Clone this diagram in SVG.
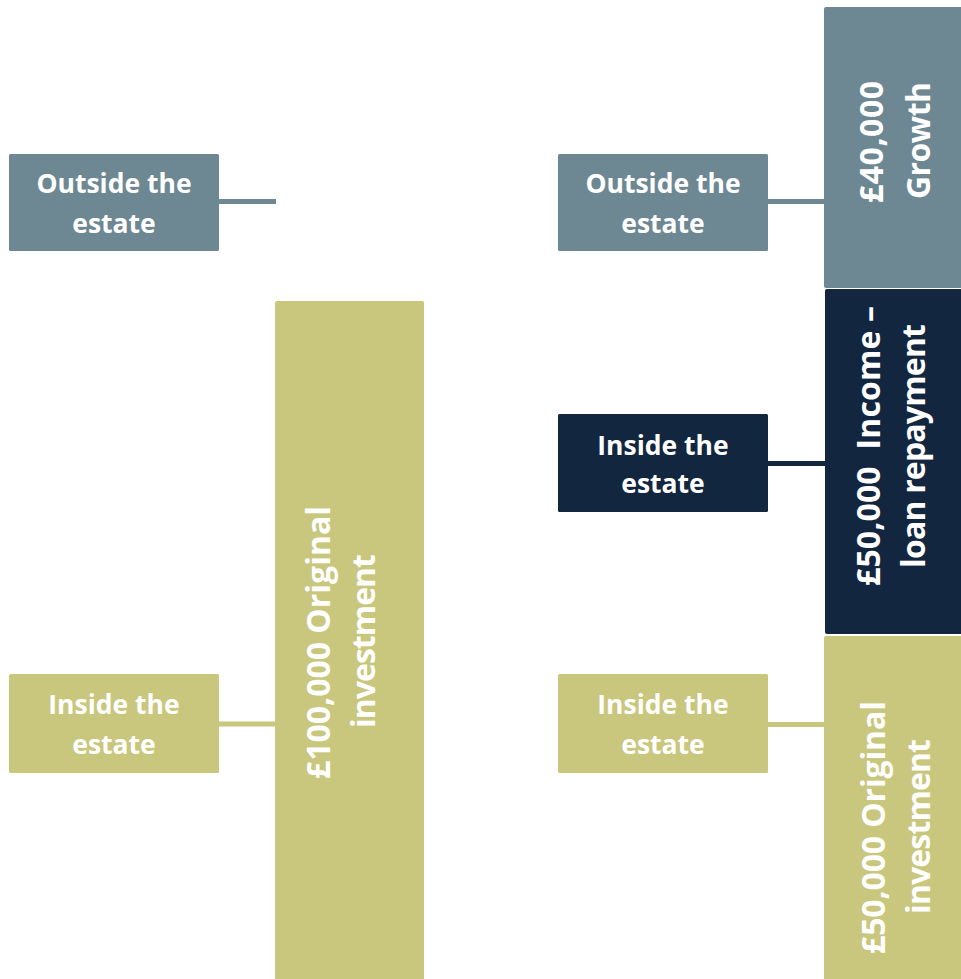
<svg xmlns="http://www.w3.org/2000/svg" width="961" height="979" viewBox="0 0 961 979">
  <style>
    .grey { fill: #6E8893; }
    .navy { fill: #13263F; }
    .olive { fill: #C9C77D; }
    .lbl { font-family: "Open Sans", "Liberation Sans", sans-serif; font-weight: 700; fill: #FFFFFF; text-anchor: middle; }
    .box { font-size: 26.5px; }
    .bar { font-size: 32px; }
    .link { stroke-width: 5; fill: none; }
  </style>
  <rect width="961" height="979" fill="#FFFFFF"/>

  <!-- connectors -->
  <g id="connectors" class="link">
    <line x1="219" y1="201.5" x2="276" y2="201.5" stroke="#6E8893"/>
    <line x1="219" y1="724" x2="276" y2="724" stroke="#C9C77D"/>
    <line x1="768" y1="201.5" x2="825" y2="201.5" stroke="#6E8893"/>
    <line x1="768" y1="463.5" x2="826" y2="463.5" stroke="#13263F"/>
    <line x1="768" y1="724.5" x2="825" y2="724.5" stroke="#C9C77D"/>
  </g>

  <!-- left column -->
  <g id="left-outside">
    <rect class="grey" x="9" y="154" width="210" height="97" rx="1.5"/>
    <text class="lbl box" x="114" y="193">Outside the</text>
    <text class="lbl box" x="114" y="233">estate</text>
  </g>
  <g id="left-inside">
    <rect class="olive" x="9" y="674" width="210" height="99" rx="1.5"/>
    <text class="lbl box" x="114" y="714">Inside the</text>
    <text class="lbl box" x="114" y="754">estate</text>
  </g>
  <g id="left-original">
    <rect class="olive" x="275" y="301" width="149" height="690" rx="2"/>
    <text class="lbl bar" transform="translate(330,642.5) rotate(-90)" textLength="273">£100,000 Original</text>
    <text class="lbl bar" transform="translate(375,641) rotate(-90)" textLength="174">investment</text>
  </g>

  <!-- right column -->
  <g id="right-outside">
    <rect class="grey" x="558" y="154" width="210" height="97" rx="1.5"/>
    <text class="lbl box" x="663" y="193">Outside the</text>
    <text class="lbl box" x="663" y="233">estate</text>
  </g>
  <g id="right-inside-income">
    <rect class="navy" x="558" y="414" width="210" height="98" rx="1.5"/>
    <text class="lbl box" x="663" y="455">Inside the</text>
    <text class="lbl box" x="663" y="493">estate</text>
  </g>
  <g id="right-inside-original">
    <rect class="olive" x="558" y="674" width="210" height="99" rx="1.5"/>
    <text class="lbl box" x="663" y="714">Inside the</text>
    <text class="lbl box" x="663" y="754">estate</text>
  </g>
  <g id="growth">
    <rect class="grey" x="824" y="7" width="145" height="281" rx="2"/>
    <text class="lbl bar" transform="translate(883,142) rotate(-90)" textLength="122">£40,000</text>
    <text class="lbl bar" transform="translate(930,140.5) rotate(-90)" textLength="117">Growth</text>
  </g>
  <g id="income">
    <rect class="navy" x="825" y="289" width="144" height="345" rx="2"/>
    <text class="lbl bar" transform="translate(880,446) rotate(-90)" textLength="280" xml:space="preserve">£50,000  Income –</text>
    <text class="lbl bar" transform="translate(925,446) rotate(-90)" textLength="244">loan repayment</text>
  </g>
  <g id="right-original">
    <rect class="olive" x="824" y="636" width="145" height="355" rx="2"/>
    <text class="lbl bar" transform="translate(885,827.5) rotate(-90)" textLength="253">£50,000 Original</text>
    <text class="lbl bar" transform="translate(930,826.5) rotate(-90)" textLength="175">investment</text>
  </g>
</svg>
